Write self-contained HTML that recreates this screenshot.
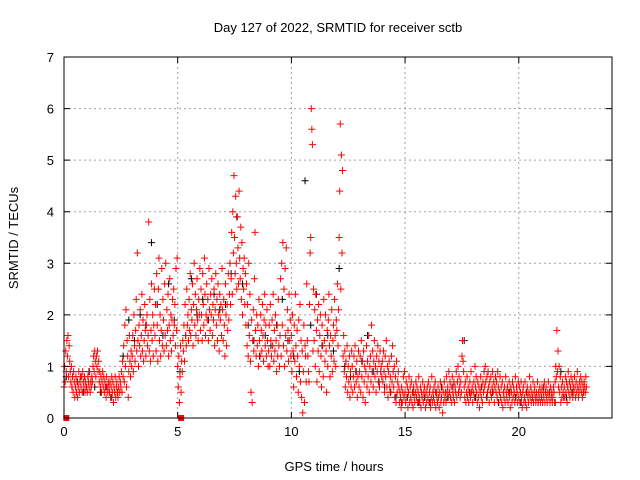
<!DOCTYPE html>
<html><head><meta charset="utf-8"><style>
html,body{margin:0;padding:0;background:#fff;}
svg{display:block;font-family:"Liberation Sans",sans-serif;}
</style></head><body>
<svg id="chart" width="640" height="480" xmlns="http://www.w3.org/2000/svg">
<rect width="640" height="480" fill="#fff"/>
<text x="338" y="32" font-size="13" text-anchor="middle" fill="#000">Day 127 of 2022, SRMTID for receiver sctb</text>
<text x="334" y="471" font-size="13" text-anchor="middle" fill="#000">GPS time / hours</text>
<text x="0" y="0" font-size="13" text-anchor="middle" fill="#000" transform="translate(18,238) rotate(-90)">SRMTID / TECUs</text>
<g id="grid"></g><g id="black"></g><g id="red"></g><g id="axes"></g>
</svg>
<script>
const xTicks=[0,5,10,15,20];
const yTicks=[0,1,2,3,4,5,6,7];
const redStep=0.025;
const redValues=[
0.6,1.0,0.7,1.3,0.9,1.5,1.2,1.6,0.8,1.4,1.1,0.9,0.7,1.0,0.6,0.8,0.5,0.9,0.7,0.4,0.6,0.8,0.5,0.7,0.4,0.6,0.9,0.5,0.7,0.8,0.6,0.8,0.5,0.9,0.7,0.6,0.8,0.5,0.7,0.6,
0.6,0.5,0.8,0.7,0.6,0.9,0.5,0.7,0.6,0.8,0.7,1.0,1.2,0.9,1.3,1.1,0.8,1.2,1.0,1.3,0.9,1.1,0.7,0.9,0.6,0.8,0.5,0.7,0.9,0.6,0.8,0.5,0.7,0.6,0.4,0.8,0.6,0.5,0.7,0.6,
0.5,0.7,0.4,0.6,0.8,0.5,0.7,0.3,0.6,0.5,0.8,0.4,0.6,0.7,0.5,0.4,0.6,0.8,0.5,0.7,0.6,0.9,0.5,1.1,0.8,1.4,0.7,1.8,1.0,2.1,0.6,1.5,1.2,0.4,0.9,1.6,1.1,0.8,1.3,1.0,
1.2,1.6,0.9,2.0,1.4,1.1,1.7,2.3,1.3,3.2,1.5,1.0,1.8,1.4,2.1,1.2,1.6,2.4,1.3,1.9,1.1,1.5,2.2,1.7,1.2,1.8,2.0,1.4,1.6,3.8,1.3,2.3,1.1,1.7,2.6,1.5,2.0,1.2,1.8,2.5,
1.6,2.2,1.3,2.8,1.8,1.1,2.5,3.1,1.5,2.0,1.2,1.7,2.9,1.4,2.3,1.9,1.3,2.6,1.6,3.0,1.4,2.1,1.7,2.4,1.2,1.8,2.7,1.5,2.0,1.3,1.9,2.3,1.6,2.5,1.8,2.2,1.4,2.9,1.7,3.1,
1.0,0.6,1.2,0.3,0.8,1.4,0.5,1.1,0.9,1.5,1.3,1.8,1.1,2.2,1.6,1.4,2.5,1.8,2.0,1.5,2.3,1.7,2.8,1.6,2.1,1.9,2.6,1.4,2.2,3.0,1.8,2.4,1.6,2.1,2.7,1.9,1.5,2.3,2.0,2.9,
1.7,2.5,2.0,1.5,2.8,2.2,1.8,3.1,2.4,1.6,2.0,2.6,1.9,2.3,1.5,2.9,2.1,1.7,2.4,2.0,2.7,1.6,2.2,1.9,2.5,1.4,2.1,2.8,1.8,2.3,1.5,2.6,2.0,1.3,2.4,1.9,2.2,1.6,2.9,2.1,
1.5,2.3,1.8,1.2,2.6,2.0,1.4,2.2,1.7,2.8,1.9,2.4,3.0,2.2,2.7,3.6,2.4,4.0,3.2,4.7,3.5,2.8,4.3,3.0,2.5,3.9,3.3,2.6,4.4,3.1,2.7,3.7,2.3,3.4,2.0,2.9,2.5,3.1,2.2,2.8,
1.8,2.6,1.4,2.2,1.2,3.0,1.6,2.4,1.1,0.5,1.9,0.3,1.5,2.1,1.3,2.7,3.6,1.7,1.2,2.0,1.4,1.8,1.0,2.3,1.5,1.2,2.0,1.7,1.3,2.2,1.6,1.1,1.9,2.4,1.4,1.8,1.2,2.1,1.5,1.0,
1.3,1.8,1.0,2.2,1.5,1.2,1.9,1.4,2.4,1.1,1.7,1.3,2.0,1.5,0.9,1.8,1.2,2.3,1.4,1.0,1.6,2.7,1.2,3.0,1.8,3.4,1.4,2.5,1.0,2.9,1.6,3.3,1.3,2.1,1.7,1.1,2.4,1.5,1.9,1.2,
1.6,0.9,2.0,1.3,0.6,1.8,1.1,2.4,1.4,0.8,1.7,1.2,0.5,1.9,1.0,2.2,0.7,1.5,0.4,1.3,0.1,0.9,1.8,0.3,1.4,1.2,0.7,2.6,1.5,1.2,0.9,0.7,2.2,3.2,3.5,6.0,5.6,5.3,1.3,2.5,
1.5,2.1,1.0,2.4,1.7,0.7,1.9,1.3,2.2,0.9,1.6,2.0,1.2,0.6,1.8,1.4,0.8,2.3,1.5,1.1,2.0,1.3,0.5,1.7,1.0,1.9,2.4,1.4,0.8,1.6,1.2,2.1,0.9,1.5,1.8,1.1,2.3,1.6,1.0,1.9,
1.7,2.6,1.4,2.1,3.5,4.4,5.7,2.5,5.1,3.2,4.8,1.2,1.6,0.9,1.3,0.6,1.1,0.8,1.4,0.5,1.0,0.7,1.2,0.4,0.9,0.6,1.3,1.0,0.5,0.8,1.2,0.6,1.4,0.9,0.7,1.1,0.4,0.8,1.3,0.6,
0.9,1.2,0.5,1.5,0.8,1.1,0.4,1.3,0.7,1.0,0.3,0.9,1.4,0.6,1.1,0.8,1.6,0.5,1.0,1.2,0.7,1.8,0.9,1.3,0.6,1.1,1.5,0.8,1.0,0.5,1.2,0.9,1.4,0.7,1.1,0.6,1.3,0.9,1.0,0.8,
1.1,0.7,1.3,0.9,0.5,1.2,0.8,1.5,0.6,1.0,0.4,0.9,1.1,0.6,0.8,0.5,1.2,0.7,1.4,0.9,0.6,1.0,0.4,0.8,0.3,1.1,0.5,0.7,0.9,0.6,0.3,0.5,0.4,0.2,0.6,0.3,0.5,0.8,0.4,0.9,
0.5,0.3,0.7,0.4,0.6,0.2,0.5,0.8,0.3,0.6,0.4,0.7,0.3,0.5,0.2,0.6,0.4,0.3,0.5,0.7,0.4,0.6,0.3,0.5,0.8,0.4,0.3,0.6,0.2,0.5,0.4,0.7,0.3,0.5,0.6,0.4,0.2,0.5,0.3,0.6,
0.4,0.7,0.3,0.5,0.6,0.2,0.4,0.8,0.3,0.5,0.4,0.6,0.3,0.7,0.2,0.5,0.4,0.3,0.6,0.4,0.2,0.5,0.7,0.3,0.4,0.6,0.1,0.5,0.3,0.7,0.4,0.5,0.3,0.8,0.5,0.6,0.4,0.9,0.5,0.7,
0.4,0.6,0.3,0.8,0.5,0.4,0.7,0.3,0.6,0.5,0.9,0.4,0.7,1.0,0.5,0.8,0.6,0.4,0.7,0.5,1.2,1.5,1.1,0.9,0.6,0.4,0.7,0.3,0.5,0.8,0.4,0.6,0.3,0.5,0.7,0.4,0.9,0.5,0.6,0.3,
0.5,0.7,0.4,1.0,0.6,0.8,0.5,0.3,0.7,0.4,0.6,0.2,0.5,0.8,0.4,0.6,0.3,0.7,0.5,0.9,0.6,1.0,0.7,0.4,0.8,0.5,0.9,0.6,0.3,0.7,0.5,0.8,0.4,0.6,0.9,0.5,0.7,0.3,0.6,0.8,
0.5,0.7,0.4,0.9,0.6,0.3,0.5,0.8,0.4,0.6,0.3,0.7,0.2,0.5,0.4,0.6,0.3,0.8,0.5,0.4,0.6,0.3,0.5,0.7,0.4,0.2,0.6,0.5,0.3,0.7,0.4,0.6,0.5,0.3,0.8,0.4,0.6,0.5,0.3,0.7,
0.4,0.6,0.3,0.5,0.7,0.4,0.2,0.5,0.6,0.3,0.4,0.7,0.3,0.5,0.2,0.6,0.4,0.3,0.5,0.8,0.4,0.6,0.3,0.5,0.4,0.7,0.3,0.5,0.6,0.4,0.3,0.5,0.4,0.7,0.3,0.5,0.4,0.6,0.3,0.5,
0.4,0.6,0.3,0.5,0.4,0.7,0.3,0.5,0.6,0.4,0.3,0.5,0.7,0.4,0.5,0.3,0.6,0.4,0.5,0.3,0.4,0.6,0.5,0.3,0.7,1.0,0.8,1.7,0.9,1.3,0.6,1.0,0.5,0.8,0.3,0.6,0.4,0.7,0.5,0.4,
0.6,0.4,0.8,0.5,0.7,0.3,0.6,0.9,0.5,0.7,0.4,0.6,0.8,0.5,0.7,0.4,0.6,0.5,0.8,0.6,0.4,0.7,0.5,0.9,0.6,0.4,0.5,0.7,0.6,0.8,0.5,0.7,0.4,0.6,0.5,0.7,0.6,0.5,0.8,0.6
];
const blackStep=0.25;
const blackValues=[0.8,0.6,0.7,0.5,0.9,0.6,0.5,0.6,0.4,0.5,1.2,1.9,1.5,2.0,1.8,3.4,2.2,1.6,2.6,1.9,0.9,1.6,2.7,2.0,2.3,1.9,2.4,2.1,2.2,2.8,3.9,2.6,1.8,1.5,1.2,1.6,1.4,1.8,2.3,1.5,1.2,0.9,4.6,1.8,2.4,1.4,1.6,1.3,2.9,1.0,0.8,0.9,1.1,1.6,0.9,0.7,0.6,0.5,0.4,0.3,0.4,0.5,0.3,0.4,0.3,0.5,0.6,0.4,0.6,0.5,1.5,0.5,0.4,0.6,0.4,0.5,0.3,0.4,0.5,0.4,0.3,0.5,0.4,0.3,0.6,0.5,0.3,0.9,0.4,0.5,0.6,0.5];
const zeroMarkerTimes=[0.1,5.15];

const NS="http://www.w3.org/2000/svg";
const L=64,R=612,T=57,B=418,XMAX=24.1,YMAX=7;
const xs=v=>L+v/XMAX*(R-L);
const ys=v=>B-v/YMAX*(B-T);
function mk(tag,attrs,parent){const e=document.createElementNS(NS,tag);for(const k in attrs)e.setAttribute(k,attrs[k]);parent.appendChild(e);return e;}
const grid=document.getElementById('grid'),axes=document.getElementById('axes');
xTicks.forEach(t=>{const x=xs(t);
 if(t>0){const g=mk('line',{x1:x,x2:x,y1:T,y2:B,stroke:'#a0a0a0','stroke-dasharray':'2,3','stroke-width':1},grid);
 
 }
 const tk=mk('path',{d:`M${x},${B}v-6M${x},${T}v6`,stroke:'#000'},axes);
 
 
 const lb=mk('text',{x:x,y:B+18,'font-size':13,'text-anchor':'middle'},axes);lb.textContent=t;
 
 
});
yTicks.forEach(t=>{const y=ys(t);
 if(t>0&&t<7){const g=mk('line',{x1:L,x2:R,y1:y,y2:y,stroke:'#a0a0a0','stroke-dasharray':'2,3','stroke-width':1},grid);
 
 }
 const tk=mk('path',{d:`M${L},${y}h6M${R},${y}h-6`,stroke:'#000'},axes);
 
 
 const lb=mk('text',{x:L-10,y:y+5,'font-size':13,'text-anchor':'end'},axes);lb.textContent=t;
 
 
});
const frame=mk('rect',{x:L,y:T,width:R-L,height:B-T,fill:'none',stroke:'#000'},axes);


function plus(x,y,color,parent,name){const p=mk('path',{d:`M${x-3.5},${y}h7M${x},${y-3.5}v7`,stroke:color,'stroke-width':1,fill:'none'},parent);
 
 }
const bg=document.getElementById('black'),rg=document.getElementById('red');
blackValues.forEach((v,i)=>plus(xs(i*blackStep+0.1),ys(v),'#000',bg,'black-point'));
redValues.forEach((v,i)=>plus(xs(i*redStep),ys(v),'#f00',rg,'red-point'));
zeroMarkerTimes.forEach(t=>{const s=mk('rect',{x:xs(t)-3,y:B-3,width:6,height:6,fill:'#f00'},rg);
 
 });
</script>
</body></html>
